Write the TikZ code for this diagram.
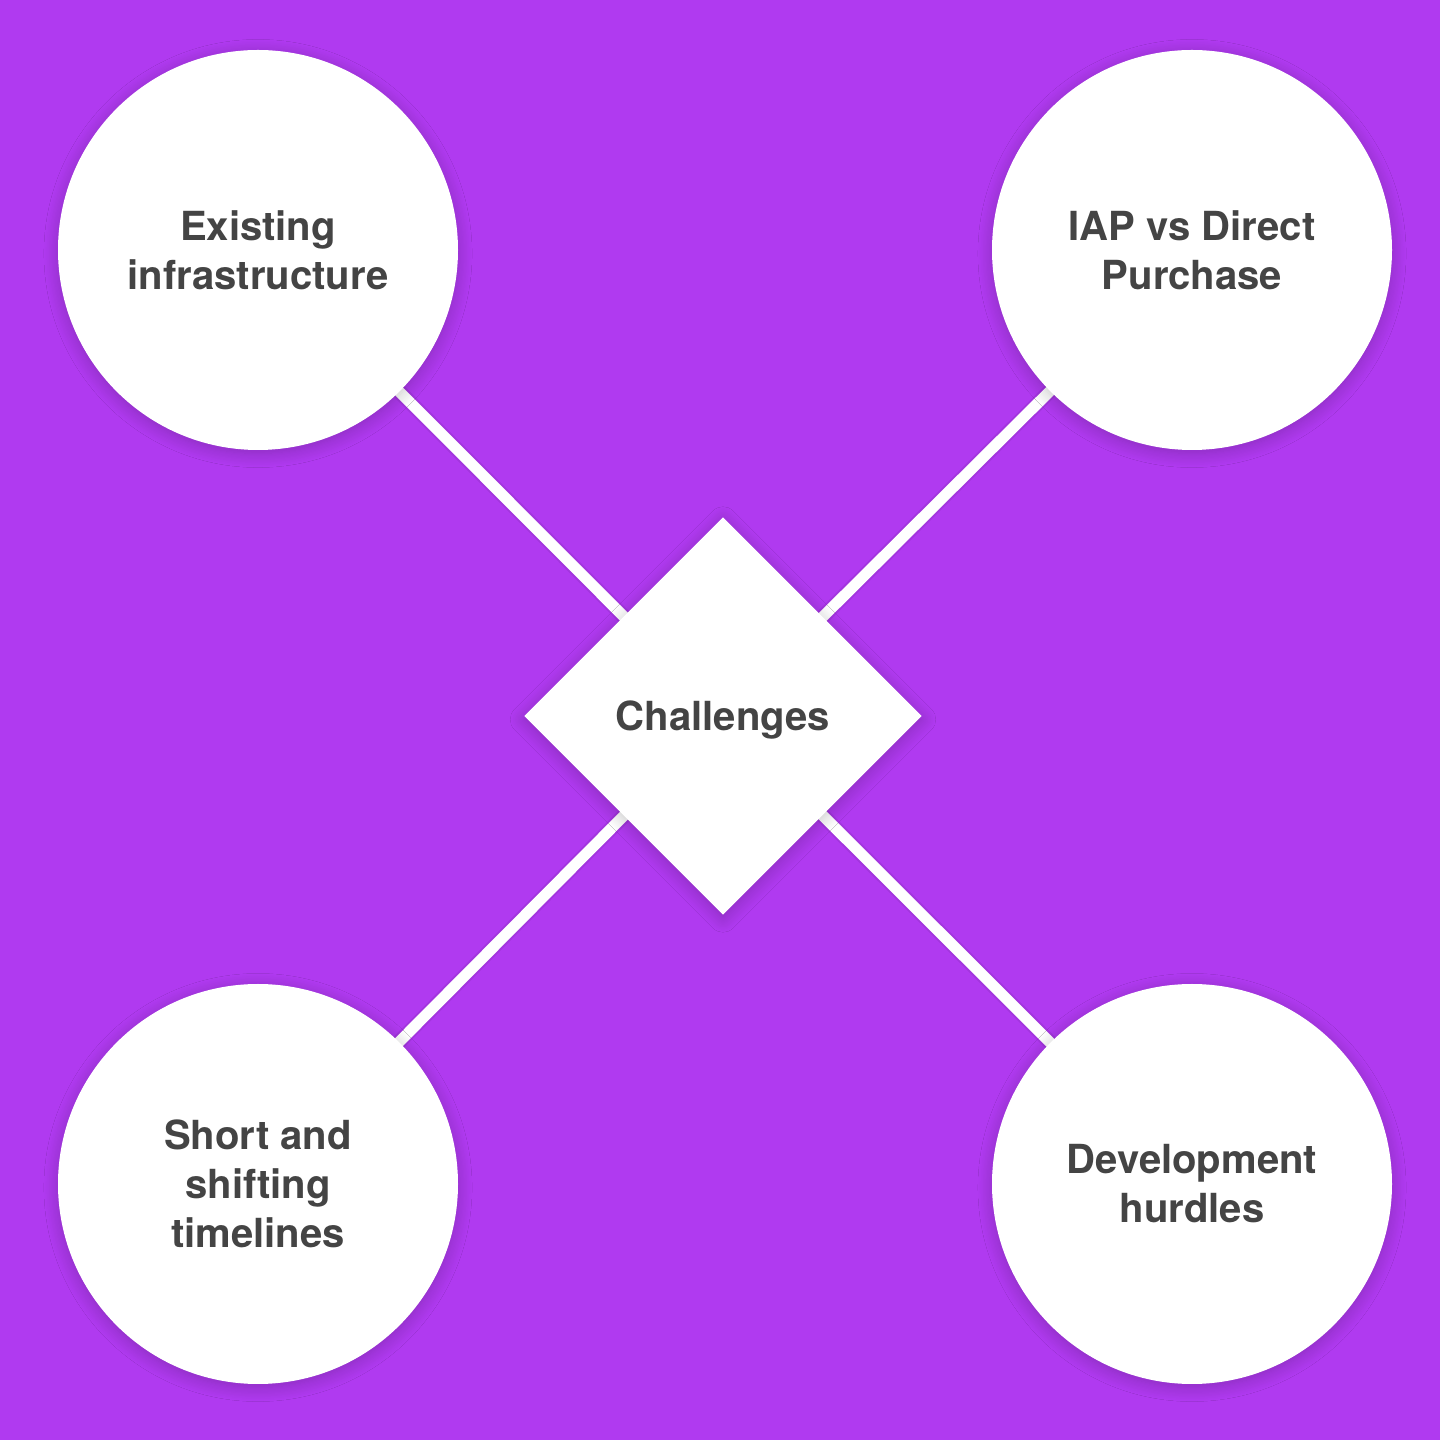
\documentclass[tikz,border=0pt]{standalone}
\usepackage{fontspec}
\setmainfont{TeX Gyre Heros}
\usepackage{tikz}
\usetikzlibrary{shapes.geometric,shadows.blur,backgrounds}
\definecolor{bgpurple}{HTML}{B03AF0}
\definecolor{labelgray}{HTML}{444444}

\begin{document}
\begin{tikzpicture}[
  font=\fontsize{11.4}{13.9}\selectfont\bfseries,
  bubble/.style={circle, fill=white, text=labelgray, align=center,
                 minimum size=4cm, inner sep=0pt,
                 blur shadow={shadow xshift=0pt, shadow yshift=-1pt,
                              shadow blur radius=4pt, shadow blur steps=12,
                              shadow opacity=22}},
  hub/.style={diamond, fill=white, text=labelgray, align=center,
              minimum size=3.98cm, inner sep=0pt, text depth=0pt,
              blur shadow={shadow xshift=0pt, shadow yshift=-1pt,
                           shadow blur radius=4pt, shadow blur steps=12,
                           shadow opacity=22}},
  spokeshade/.style={line width=0.15cm, draw=black, draw opacity=0.07},
  spoke/.style={line width=0.11cm, draw=white}
]
\useasboundingbox (0,0) rectangle (14.4,14.4);
\node[hub] (challenges) at (7.23,7.24) {Challenges};
\node[bubble] (infra) at (2.58,11.90) {Existing\\infrastructure};
\node[bubble] (iap) at (11.92,11.90) {IAP vs Direct\\Purchase};
\node[bubble] (timelines) at (2.58,2.56) {Short and\\shifting\\timelines};
\node[bubble] (hurdles) at (11.92,2.56) {Development\\hurdles};
% spokes behind the shapes
\begin{scope}[on background layer]
\fill[bgpurple] (0,0) rectangle (14.4,14.4);
\foreach \leaf in {infra,iap,timelines,hurdles} {
  \draw[spokeshade] (challenges.center) -- (\leaf.center);
  \draw[spoke] (challenges.center) -- (\leaf.center);
}
\end{scope}
\end{tikzpicture}
\end{document}
